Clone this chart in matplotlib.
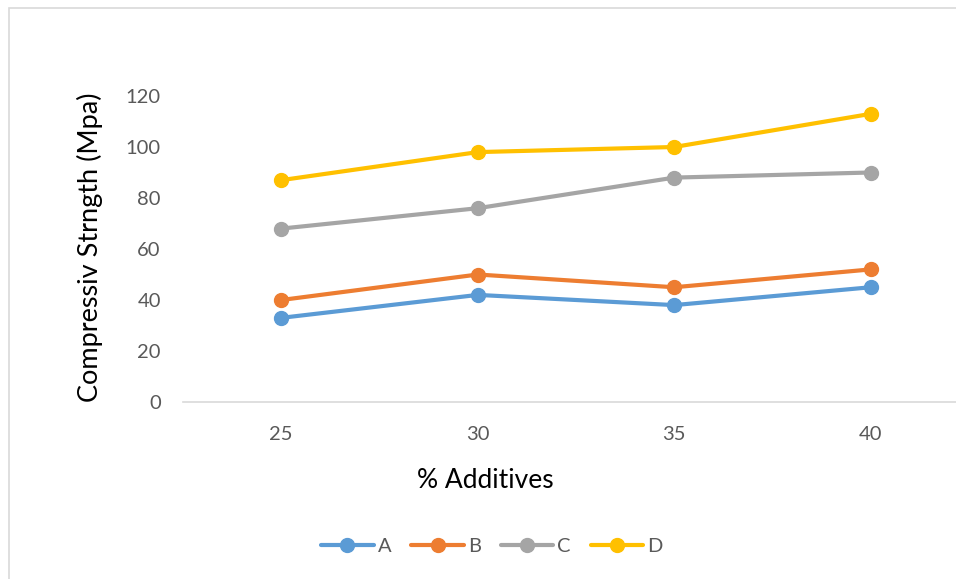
import numpy as np
import matplotlib.pyplot as plt
from matplotlib.patches import Rectangle

plt.rcParams['font.family'] = ['Lato', 'DejaVu Sans']

additives = ['25', '30', '35', '40']
series_names = ['A', 'B', 'C', 'D']
A = [33, 42, 38, 45]
B = [40, 50, 45, 52]
C = [68, 76, 88, 90]
D = [87, 98, 100, 113]
colors = ['#5B9BD5', '#ED7D31', '#A5A5A5', '#FFC000']

fig = plt.figure(figsize=(9.56, 5.79), dpi=100)
# chart border (left and top edges visible)
fig.patches.append(Rectangle((9/956, -0.1), 1.2, 1 - 8/579 + 0.1, transform=fig.transFigure,
                             fill=False, edgecolor='#D9D9D9', linewidth=1.2))

ax = fig.add_axes([183/956, 1 - 402/579, 786/956, 306/579])
x = np.arange(len(additives))
for name, vals, col in zip(series_names, [A, B, C, D], colors):
    ax.plot(x, vals, color=col, linewidth=3, marker='o', markersize=10,
            solid_capstyle='round', label=name)

ax.set_xlim(-0.5, 3.5)
ax.set_ylim(0, 120)
ax.set_yticks(np.arange(0, 121, 20))
ax.set_xticks(x)
ax.set_xticklabels(additives)
for s in ['top', 'right', 'left']:
    ax.spines[s].set_visible(False)
ax.spines['bottom'].set_color('#D9D9D9')
ax.spines['bottom'].set_linewidth(1.2)
ax.tick_params(length=0, labelsize=14.5, colors='#595959')
ax.tick_params(axis='x', pad=17)
ax.tick_params(axis='y', pad=16)
ax.set_ylabel('Compressiv Strngth (Mpa)', fontsize=19.5, color='black')
ax.yaxis.set_label_coords((90 - 183)/786, (402 - 247)/306)
ax.yaxis.label.set_va('center')
ax.set_xlabel('% Additives', fontsize=19, color='black')
ax.xaxis.set_label_coords((485 - 183)/786, (402 - 480)/306)
ax.xaxis.label.set_va('center')

leg = fig.legend(loc='center', bbox_to_anchor=(492/956, 1 - 546/579), ncol=4, frameon=False,
                 fontsize=14.5, handlelength=2.6, columnspacing=1.0, handletextpad=0.2)
for t in leg.get_texts():
    t.set_color('#595959')

fig.savefig('out.png', dpi=100)
